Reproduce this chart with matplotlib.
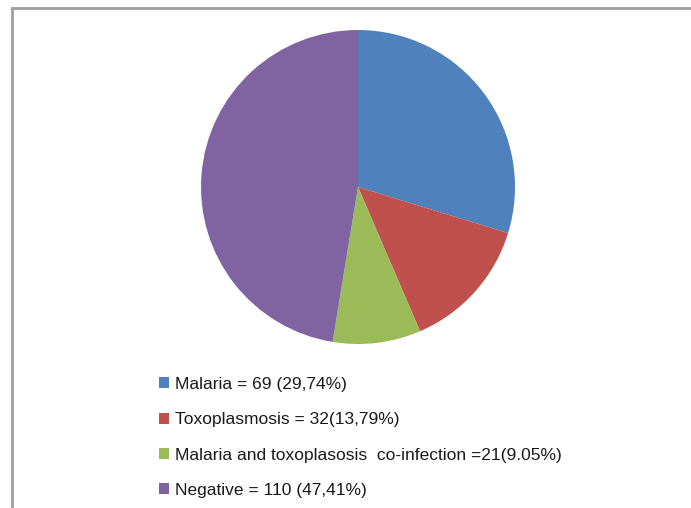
import matplotlib
matplotlib.use("Agg")
import matplotlib.pyplot as plt
from matplotlib.lines import Line2D

# Data
labels = ['Malaria = 69 (29,74%)',
          'Toxoplasmosis = 32(13,79%)',
          'Malaria and toxoplasosis  co-infection =21(9.05%)',
          'Negative = 110 (47,41%)']
counts = [69, 32, 21, 110]
colors = ['#4F81BD', '#C0504D', '#9BBB59', '#8064A2']

plt.rcParams['font.family'] = ['Liberation Sans', 'DejaVu Sans']

W, H = 691, 508
fig = plt.figure(figsize=(W / 100, H / 100), dpi=100)

# pie area: centre ~ (358, 187) px, radius ~157 px
cx, cy, r = 358, 187, 157
ax = fig.add_axes([(cx - r) / W, (H - cy - r) / H, 2 * r / W, 2 * r / H])
wedges, _ = ax.pie(counts, colors=colors, startangle=90, counterclock=False,
                   wedgeprops=dict(linewidth=0))
ax.set_xlim(-1, 1)
ax.set_ylim(-1, 1)
ax.set_aspect('equal')
ax.axis('off')

# chart frame (top and left edges visible)
frame_kw = dict(color='#a0a0a0', linewidth=2, transform=fig.transFigure)
fig.add_artist(Line2D([12 / W, 1], [1 - 8 / H, 1 - 8 / H], **frame_kw))
fig.add_artist(Line2D([12 / W, 12 / W], [0, 1 - 8 / H], **frame_kw))

leg = fig.legend(wedges, labels, loc='upper left',
                 bbox_to_anchor=(152 / W, 1 - 370 / H),
                 frameon=False, fontsize=12.5, handlelength=0.6, handleheight=0.6,
                 handletextpad=0.35, labelspacing=1.17, borderaxespad=0)
for t in leg.get_texts():
    t.set_color('#1a1a1a')

fig.savefig('out.png', dpi=100)
